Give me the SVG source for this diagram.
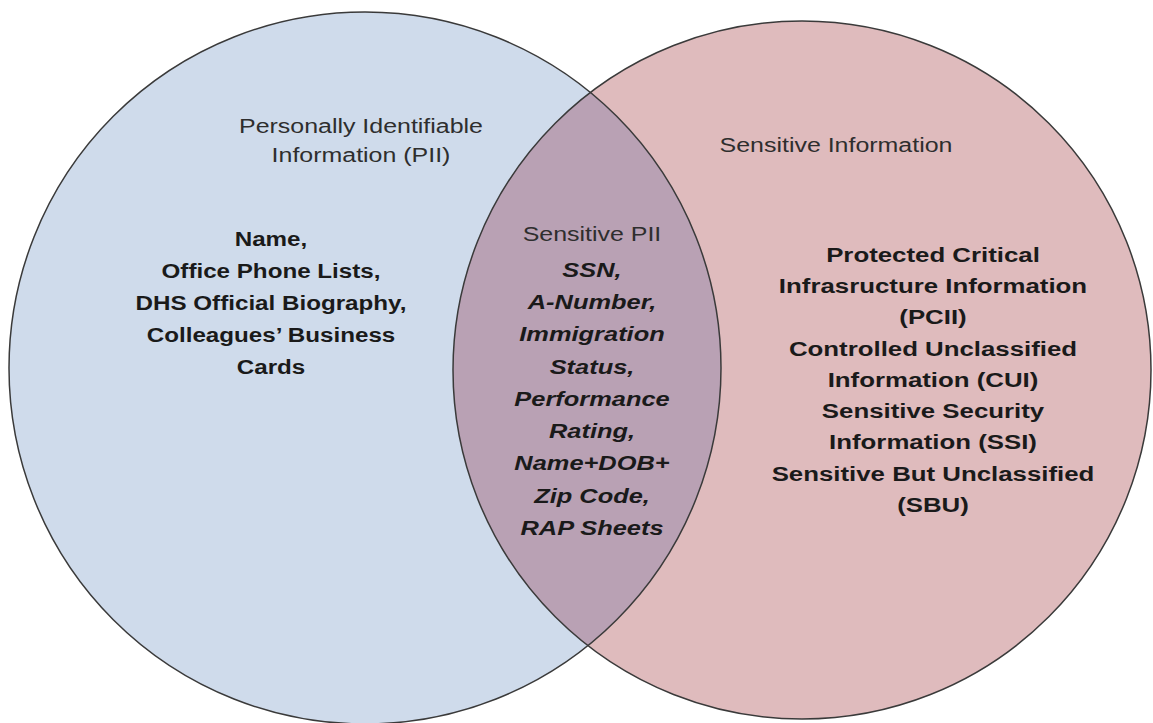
<svg xmlns="http://www.w3.org/2000/svg" width="1153" height="723" viewBox="0 0 1153 723">
<style>
.bg{fill:#ffffff}
.outline{fill:none;stroke:#3a3a3a;stroke-width:1.5}
.lbl{font-family:"Liberation Sans",Arial,sans-serif;font-size:19.5px;fill:#2e2e2e;text-anchor:middle}
.big{font-family:"Liberation Sans",Arial,sans-serif;font-size:20.5px;font-weight:bold;fill:#1a1a1a;text-anchor:middle}
.it{font-style:italic}
</style>
<defs>
<clipPath id="clipLeft"><circle cx="365" cy="368" r="356"/></clipPath>
</defs>
<rect class="bg" x="0" y="0" width="1153" height="723"/>
<g id="pii">
<circle cx="365" cy="368" r="356" fill="#cfdbeb"/>
</g>
<g id="sensitive">
<circle cx="802" cy="370" r="349" fill="#dfbbbd"/>
</g>
<g id="sensitive-pii">
<circle cx="802" cy="370" r="349" fill="#b9a1b4" clip-path="url(#clipLeft)"/>
</g>
<g id="outlines">
<circle class="outline" cx="365" cy="368" r="356"/>
<circle class="outline" cx="802" cy="370" r="349"/>
</g>
<g id="pii-text">
<g transform="translate(361 0) scale(1.28 1)">
<text class="lbl" x="0" y="133">Personally Identifiable</text>
<text class="lbl" x="0" y="162">Information (PII)</text>
</g>
<g transform="translate(271 0) scale(1.18 1)">
<text class="big" x="0" y="246">Name,</text>
<text class="big" x="0" y="278">Office Phone Lists,</text>
<text class="big" x="0" y="310">DHS Official Biography,</text>
<text class="big" x="0" y="342">Colleagues’ Business</text>
<text class="big" x="0" y="374">Cards</text>
</g>
</g>
<g id="sensitive-text">
<g transform="translate(836 0) scale(1.28 1)">
<text class="lbl" x="0" y="152">Sensitive Information</text>
</g>
<g transform="translate(933 0) scale(1.26 1)">
<text class="big" x="0" y="262">Protected Critical</text>
<text class="big" x="0" y="293">Infrasructure Information</text>
<text class="big" x="0" y="324.5">(PCII)</text>
<text class="big" x="0" y="356">Controlled Unclassified</text>
<text class="big" x="0" y="387">Information (CUI)</text>
<text class="big" x="0" y="418">Sensitive Security</text>
<text class="big" x="0" y="449.5">Information (SSI)</text>
<text class="big" x="0" y="481">Sensitive But Unclassified</text>
<text class="big" x="0" y="512">(SBU)</text>
</g>
</g>
<g id="sensitive-pii-text">
<g transform="translate(592 0) scale(1.28 1)">
<text class="lbl" x="0" y="241">Sensitive PII</text>
</g>
<g transform="translate(592 0) scale(1.24 1)">
<text class="big it" x="0" y="277">SSN,</text>
<text class="big it" x="0" y="309">A-Number,</text>
<text class="big it" x="0" y="341.5">Immigration</text>
<text class="big it" x="0" y="374">Status,</text>
<text class="big it" x="0" y="406">Performance</text>
<text class="big it" x="0" y="438">Rating,</text>
<text class="big it" x="0" y="470.5">Name+DOB+</text>
<text class="big it" x="0" y="503">Zip Code,</text>
<text class="big it" x="0" y="535">RAP Sheets</text>
</g>
</g>
</svg>
